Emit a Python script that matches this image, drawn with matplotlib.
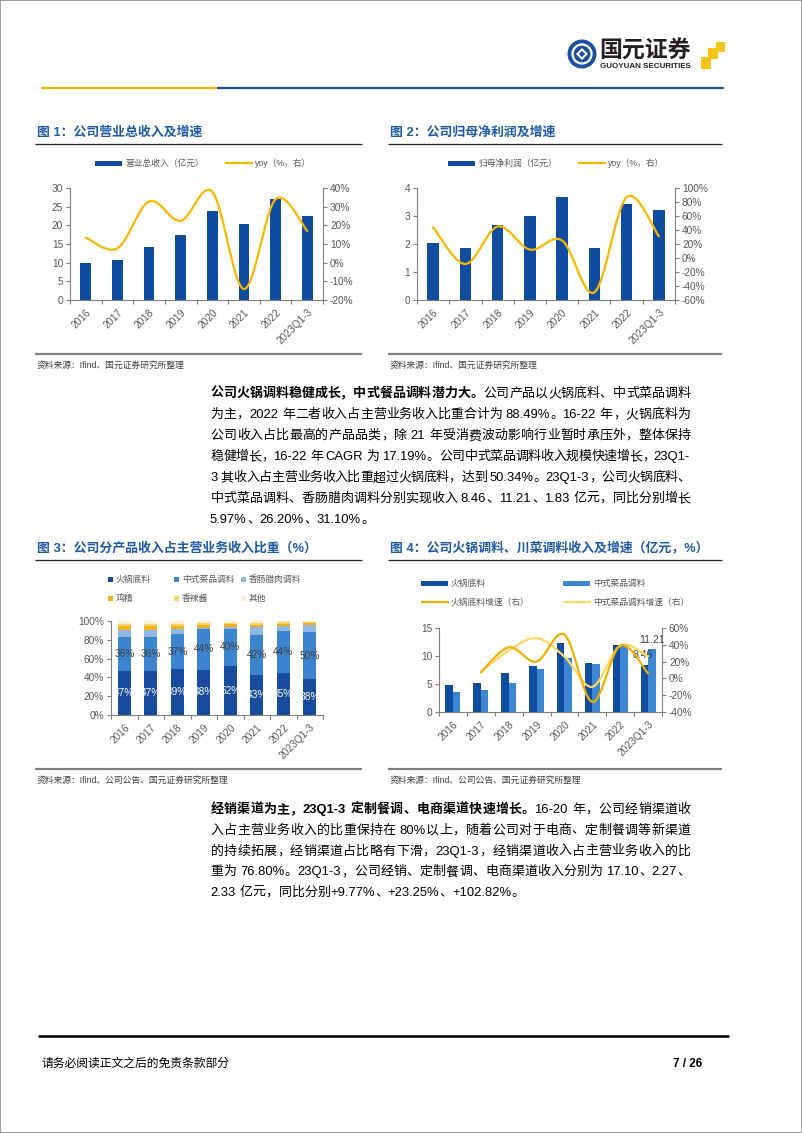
import numpy as np
import matplotlib
matplotlib.use('Agg')
import matplotlib.pyplot as plt
from matplotlib.patches import Rectangle, Ellipse, Polygon
from matplotlib.lines import Line2D
from matplotlib import font_manager
from matplotlib.font_manager import FontProperties
from matplotlib.ft2font import FT2Font

plt.rcParams['font.family'] = ['Liberation Sans', 'Noto Sans CJK SC']

# ---------------- 数据 ----------------
years = ['2016', '2017', '2018', '2019', '2020', '2021', '2022', '2023Q1-3']

revenue = [9.85, 10.65, 14.2, 17.5, 23.9, 20.4, 27.1, 22.6]
revenue_yoy = [13.4, 7.7, 32.8, 22.4, 38.0, -14.1, 34.0, 17.0]

profit = [2.05, 1.87, 2.69, 2.99, 3.67, 1.87, 3.43, 3.22]
profit_yoy = [43.7, -8.6, 45.0, 12.0, 25.0, -49.0, 87.0, 31.0]

share_names = ['火锅底料', '中式菜品调料', '香肠腊肉调料', '鸡精', '香辣酱', '其他']
share_hotpot = [47, 47, 49, 48, 52, 43, 45, 38]
share_chinese = [36, 36, 37, 44, 40, 42, 44, 50]
share_sausage = [7, 7, 6, 1, 2, 9, 6, 8]
share_chicken = [5, 5, 3, 3, 3, 2, 2, 2]
share_spicy = [2, 2, 2, 2, 1, 2, 2, 1]
share_other = [3, 3, 3, 2, 2, 2, 1, 1]

hotpot_rev = [4.8, 5.1, 6.9, 8.2, 12.3, 8.8, 12.0, 8.46]
chinese_rev = [3.6, 3.9, 5.2, 7.7, 9.6, 8.6, 11.9, 11.21]
hotpot_yoy = [np.nan, 7, 37, 20, 52, -28, 39, 5.97]
chinese_yoy = [np.nan, 8, 33, 48, 26, -10, 39, 26.2]

# ---------------- 样式 ----------------
W, H, DPI = 802, 1133, 100
BLUE = '#0f4c9f'
MID_BLUE = '#3b87d4'
GOLD = '#f5b700'
LIGHT_GOLD = '#ffd966'
AX_C = '#7f7f7f'
TICK_C = '#595959'
TICK_FS = 7.3
LEG_FS = 6.3
TITLE_C = '#1e5aa8'

fig = plt.figure(figsize=(W / DPI, H / DPI), dpi=DPI)


def fx(x):
    return x / W


def fy(y):
    return 1 - y / H


def hline(x0, x1, y, color, lw):
    fig.add_artist(Line2D([fx(x0), fx(x1)], [fy(y), fy(y)], color=color, lw=lw,
                          transform=fig.transFigure, solid_capstyle='butt'))


def rect(x, y, w, h, color):
    fig.add_artist(Rectangle((fx(x), fy(y + h)), w / W, h / H, facecolor=color,
                             edgecolor='none', transform=fig.transFigure))


def text(x, y, s, **kw):
    kw.setdefault('va', 'center')
    fig.text(fx(x), fy(y), s, **kw)


def add_ax(x0, x1, y0, y1):
    return fig.add_axes([fx(x0), fy(y1), (x1 - x0) / W, (y1 - y0) / H])


def smooth(xs, ys, n=30):
    # Excel 风格平滑线 (Catmull-Rom -> Bezier)
    xs = np.asarray(xs, float)
    ys = np.asarray(ys, float)
    m = len(xs)
    out_x, out_y = [], []
    t = np.linspace(0, 1, n)
    for i in range(m - 1):
        xa, ya = (xs[i - 1], ys[i - 1]) if i > 0 else (xs[i], ys[i])
        xd, yd = (xs[i + 2], ys[i + 2]) if i + 2 < m else (xs[i + 1], ys[i + 1])
        c1x, c1y = xs[i] + (xs[i + 1] - xa) / 6, ys[i] + (ys[i + 1] - ya) / 6
        c2x, c2y = xs[i + 1] - (xd - xs[i]) / 6, ys[i + 1] - (yd - ys[i]) / 6
        bx = (1 - t) ** 3 * xs[i] + 3 * (1 - t) ** 2 * t * c1x + 3 * (1 - t) * t ** 2 * c2x + t ** 3 * xs[i + 1]
        by = (1 - t) ** 3 * ys[i] + 3 * (1 - t) ** 2 * t * c1y + 3 * (1 - t) * t ** 2 * c2y + t ** 3 * ys[i + 1]
        out_x.extend(bx)
        out_y.extend(by)
    return out_x, out_y


def smooth_line(ax, vals, color, lw=1.6):
    vals = np.asarray(vals, float)
    idx = np.where(~np.isnan(vals))[0]
    sx, sy = smooth(idx, vals[idx])
    ax.plot(sx, sy, color=color, lw=lw, solid_capstyle='round')


def style_ax(ax, ylim, yticks, ylabels=None):
    n = len(years)
    ax.set_xlim(-0.5, n - 0.5)
    ax.set_ylim(*ylim)
    ax.set_yticks(yticks)
    if ylabels:
        ax.set_yticklabels(ylabels)
    ax.set_xticks(range(n))
    ax.set_xticklabels(years, rotation=45, ha='right', rotation_mode='anchor')
    ax.set_xticks(np.arange(-0.5, n), minor=True)
    ax.tick_params(axis='x', which='major', length=0, pad=5, labelsize=TICK_FS, labelcolor=TICK_C)
    ax.tick_params(axis='x', which='minor', length=3, color=AX_C, width=0.8)
    ax.tick_params(axis='y', length=3, color=AX_C, width=0.8, labelsize=TICK_FS,
                   labelcolor=TICK_C, pad=2)
    for s in ['top', 'right']:
        ax.spines[s].set_visible(False)
    for s in ['left', 'bottom']:
        ax.spines[s].set_color(AX_C)
        ax.spines[s].set_linewidth(0.8)


def style_twin(ax2, ylim, yticks):
    ax2.set_ylim(*ylim)
    ax2.set_yticks(yticks)
    ax2.set_yticklabels([f'{v}%' for v in yticks])
    ax2.tick_params(axis='y', length=3, color=AX_C, width=0.8, labelsize=TICK_FS,
                    labelcolor=TICK_C, pad=2)
    for s in ['top', 'left', 'bottom']:
        ax2.spines[s].set_visible(False)
    ax2.spines['right'].set_color(AX_C)
    ax2.spines['right'].set_linewidth(0.8)


def frame(x0, x1, y_title, y_under, y_src_line, y_src, title, source):
    text(x0 + 2, y_title, title, fontsize=9.3, fontweight='bold', color=TITLE_C)
    hline(x0, x1, y_under, '#262626', 0.9)
    hline(x0, x1, y_src_line, '#808080', 1.6)
    text(x0 + 2, y_src, source, fontsize=6.3, color='#404040')


def leg_patch(x, y, color, label):
    rect(x, y - 2.5, 27, 5, color)
    text(x + 30, y, label, fontsize=LEG_FS, color=TICK_C)


def leg_line(x, y, color, label):
    hline(x, x + 28, y, color, 1.6)
    text(x + 30, y, label, fontsize=LEG_FS, color=TICK_C)


def leg_square(x, y, color, label):
    rect(x, y - 2.5, 5, 5, color)
    text(x + 8, y, label, fontsize=LEG_FS, color=TICK_C)


# ---------------- 页眉 / 页脚 ----------------
fig.add_artist(Rectangle((0, 0), 1, 1, fill=False, edgecolor='#8c8c8c', lw=1.2,
                         transform=fig.transFigure))
hline(41, 217, 88, GOLD, 1.6)
hline(217, 724, 88, '#1c4f9c', 1.6)

cx, cy = 582, 54
fig.add_artist(Ellipse((fx(cx), fy(cy)), 29 / W, 29 / H, facecolor='#1c4f9c',
                       edgecolor='none', transform=fig.transFigure))
fig.add_artist(Ellipse((fx(cx), fy(cy)), 19 / W, 19 / H, facecolor='none',
                       edgecolor='white', lw=1.6, transform=fig.transFigure))
fig.add_artist(Polygon([(fx(cx - 6), fy(cy)), (fx(cx), fy(cy - 6)), (fx(cx + 6), fy(cy)),
                        (fx(cx), fy(cy + 6))], facecolor='white', edgecolor='none',
                       transform=fig.transFigure))
fig.add_artist(Polygon([(fx(cx - 3.2), fy(cy)), (fx(cx), fy(cy - 3.2)), (fx(cx + 3.2), fy(cy)),
                        (fx(cx), fy(cy + 3.2))], facecolor='#1c4f9c', edgecolor='none',
                       transform=fig.transFigure))
text(599, 51, '国元证券', fontsize=16.5, fontweight='bold', color='#231f20')
text(600, 66, 'GUOYUAN SECURITIES', fontsize=5.8, fontweight='bold', color='#231f20')
rect(701, 57, 10, 12, '#f6c318')
rect(708, 48, 10, 11, '#f6c318')
rect(716, 42, 9, 10, '#f6c318')

hline(38, 729, 1036, '#000000', 1.8)
text(41, 1064, '请务必阅读正文之后的免责条款部分', fontsize=8.5, color='#000000')
text(702, 1064, '7 / 26', fontsize=8.5, fontweight='bold', ha='right', color='#000000')

# ---------------- 图 1 ----------------
frame(35, 362, 133, 144, 354, 365, '图 1：公司营业总收入及增速', '资料来源：Ifind、国元证券研究所整理')
leg_patch(95, 163, BLUE, '营业总收入（亿元）')
leg_line(225, 163, GOLD, 'yoy（%，右）')
ax = add_ax(70, 323, 188, 300)
x = np.arange(len(years))
ax.bar(x, revenue, 0.34, color=BLUE)
style_ax(ax, (0, 30), [0, 5, 10, 15, 20, 25, 30])
axr = ax.twinx()
smooth_line(axr, revenue_yoy, GOLD)
style_twin(axr, (-20, 40), [-20, -10, 0, 10, 20, 30, 40])

# ---------------- 图 2 ----------------
frame(388, 722, 133, 144, 354, 365, '图 2：公司归母净利润及增速', '资料来源：Ifind、国元证券研究所整理')
leg_patch(448, 163, BLUE, '归母净利润（亿元）')
leg_line(578, 163, GOLD, 'yoy（%，右）')
ax = add_ax(417, 675, 188, 300)
ax.bar(x, profit, 0.35, color=BLUE)
style_ax(ax, (0, 4), [0, 1, 2, 3, 4])
axr = ax.twinx()
smooth_line(axr, profit_yoy, GOLD)
style_twin(axr, (-60, 100), [-60, -40, -20, 0, 20, 40, 60, 80, 100])

# ---------------- 图 3 ----------------
frame(35, 362, 548, 560, 769, 780, '图 3：公司分产品收入占主营业务收入比重（%）',
      '资料来源：Ifind、公司公告、国元证券研究所整理')
share_colors = ['#174c9c', '#3d84cf', '#8fb9e3', '#f2b01e', '#fad36b', '#fdefd0']
leg_x = [108, 174, 241]
for i, (name, c) in enumerate(zip(share_names, share_colors)):
    leg_square(leg_x[i % 3], 579 if i < 3 else 598, c, name)
ax = add_ax(111, 323, 621, 715)
series = [share_hotpot, share_chinese, share_sausage, share_chicken, share_spicy, share_other]
bottom = np.zeros(len(years))
for vals, c in zip(series, share_colors):
    ax.bar(x, vals, 0.5, bottom=bottom, color=c)
    bottom += np.asarray(vals, float)
for i in range(len(years)):
    ax.text(x[i], share_hotpot[i] / 2, f'{share_hotpot[i]}%', ha='center', va='center',
            fontsize=TICK_FS, color='white')
    ax.text(x[i], share_hotpot[i] + share_chinese[i] / 2, f'{share_chinese[i]}%', ha='center',
            va='center', fontsize=TICK_FS, color='#404040')
style_ax(ax, (0, 100), [0, 20, 40, 60, 80, 100], ['0%', '20%', '40%', '60%', '80%', '100%'])

# ---------------- 图 4 ----------------
frame(388, 722, 548, 560, 769, 780, '图 4：公司火锅调料、川菜调料收入及增速（亿元，%）',
      '资料来源：Ifind、公司公告、国元证券研究所整理')
leg_patch(421, 583, BLUE, '火锅底料')
leg_patch(563, 583, MID_BLUE, '中式菜品调料')
leg_line(421, 602, '#eeb000', '火锅底料增速（右）')
leg_line(563, 602, LIGHT_GOLD, '中式菜品调料增速（右）')
ax = add_ax(439, 662, 628, 712)
bw = 0.27
b1 = ax.bar(x - bw / 2, hotpot_rev, bw, color=BLUE)
b2 = ax.bar(x + bw / 2, chinese_rev, bw, color=MID_BLUE)
ax.annotate(f'{hotpot_rev[-1]:.2f}', (x[-1] - bw / 2 - 0.05, hotpot_rev[-1]), xytext=(0, 3),
            textcoords='offset points', ha='center', va='bottom', fontsize=7.5, color='#404040')
ax.annotate(f'{chinese_rev[-1]:.2f}', (x[-1] + bw / 2, chinese_rev[-1]), xytext=(0, 3),
            textcoords='offset points', ha='center', va='bottom', fontsize=7.5, color='#404040')
style_ax(ax, (0, 15), [0, 5, 10, 15])
axr = ax.twinx()
smooth_line(axr, chinese_yoy, LIGHT_GOLD)
smooth_line(axr, hotpot_yoy, '#eeb000')
style_twin(axr, (-40, 60), [-40, -20, 0, 20, 40, 60])

# ---------------- 正文 ----------------
BODY_FS = 9.35
lat_reg = FT2Font(font_manager.findfont(FontProperties(family='Liberation Sans')))
lat_bold = FT2Font(font_manager.findfont(FontProperties(family='Liberation Sans', weight='bold')))


def advance(ch, bold):
    if ord(ch) >= 0x2000:
        return BODY_FS * DPI / 72
    f = lat_bold if bold else lat_reg
    f.set_size(BODY_FS, DPI)
    g = f.load_char(ord(ch))
    return g.linearHoriAdvance / 65536


def body_line(segments, y, justify=True, x0=210, x1=690):
    units = []
    for s, bold in segments:
        buf = ''
        for ch in s:
            if ord(ch) >= 0x2000 or ch == ' ':
                if buf:
                    units.append((buf, bold))
                    buf = ''
                units.append((ch, bold))
            else:
                buf += ch
        if buf:
            units.append((buf, bold))
    widths = [sum(advance(c, b) for c in t) for t, b in units]
    gap = (x1 - x0 - sum(widths)) / (len(units) - 1) if justify else 0
    xp = x0
    for (t, b), w in zip(units, widths):
        if t != ' ':
            off = 0.05 * BODY_FS * DPI / 72 if ord(t[0]) >= 0x2000 else 0
            text(xp + off, y, t, fontsize=BODY_FS, fontweight='bold' if b else 'normal',
                 color='#000000')
        xp += w + gap


para1 = [
    [('公司火锅调料稳健成长，中式餐品调料潜力大。', True), ('公司产品以火锅底料、中式菜品调料', False)],
    [('为主，2022 年二者收入占主营业务收入比重合计为 88.49%。16-22 年，火锅底料为', False)],
    [('公司收入占比最高的产品品类，除 21 年受消费波动影响行业暂时承压外，整体保持', False)],
    [('稳健增长，16-22 年 CAGR 为 17.19%。公司中式菜品调料收入规模快速增长，23Q1-', False)],
    [('3 其收入占主营业务收入比重超过火锅底料，达到 50.34%。23Q1-3，公司火锅底料、', False)],
    [('中式菜品调料、香肠腊肉调料分别实现收入 8.46、11.21、1.83 亿元，同比分别增长', False)],
    [('5.97%、26.20%、31.10%。', False)],
]
para2 = [
    [('经销渠道为主，23Q1-3 定制餐调、电商渠道快速增长。', True), ('16-20 年，公司经销渠道收', False)],
    [('入占主营业务收入的比重保持在 80%以上，随着公司对于电商、定制餐调等新渠道', False)],
    [('的持续拓展，经销渠道占比略有下滑，23Q1-3，经销渠道收入占主营业务收入的比', False)],
    [('重为 76.80%。23Q1-3，公司经销、定制餐调、电商渠道收入分别为 17.10、2.27、', False)],
    [('2.33 亿元，同比分别+9.77%、+23.25%、+102.82%。', False)],
]
for i, segs in enumerate(para1):
    body_line(segs, 394 + 21 * i, justify=i < len(para1) - 1)
for i, segs in enumerate(para2):
    body_line(segs, 810 + 20.75 * i, justify=i < len(para2) - 1)

fig.savefig('out.png', dpi=DPI)
print('Saved: out.png')
